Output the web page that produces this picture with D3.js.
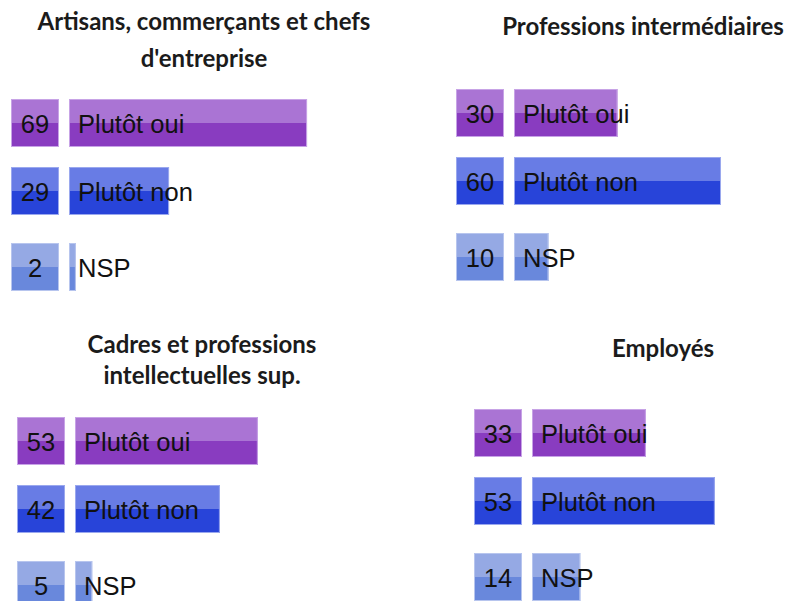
<!DOCTYPE html>
<html>
<head>
<meta charset="utf-8">
<script src="https://cdn.jsdelivr.net/npm/d3@7"></script>
<style>
  body { margin: 0; background: #ffffff; }
  svg { display: block; }
</style>
</head>
<body>
<div class="chart"></div>
<script>
/* Data */
var GROUPS = [
  "Artisans, commerçants et chefs|d'entreprise",
  "Professions intermédiaires",
  "Cadres et professions|intellectuelles sup.",
  "Employés"
];
var ANSWERS = ["Plutôt oui", "Plutôt non", "NSP"];
var VALUES_ARTISANS = [69, 29, 2];
var VALUES_INTERMEDIAIRES = [30, 60, 10];
var VALUES_CADRES = [53, 42, 5];
var VALUES_EMPLOYES = [33, 53, 14];
var ALL_VALUES = [VALUES_ARTISANS, VALUES_INTERMEDIAIRES, VALUES_CADRES, VALUES_EMPLOYES];

/* Colours: light upper half, dark lower half of each bar */
var LIGHT = ["#aa74d4", "#687ce5", "#95a9e4"];
var DARK = ["#893cc0", "#2844d9", "#6988dc"];
var EDGE = ["#c7a3e6", "#9aa8ee", "#b7c5ee"];

var WIDTH = 791, HEIGHT = 601;

/* Where each small panel sits: left of the number box, top of first row,
 * title centre, title baseline and title line spacing */
var PANELS = [
  { x: 11, y: 99, tx: 204, ty: 30, lh: 37 },
  { x: 456, y: 89, tx: 643, ty: 35, lh: 0 },
  { x: 17, y: 417, tx: 202, ty: 353, lh: 31 },
  { x: 474, y: 409, tx: 663, ty: 357, lh: 0 }
];

var BOX_W = 48;
var GAP = 10;
var BAR_H = 48;

var svg = d3.select("div.chart")
  .append("svg")
  .attr("width", WIDTH)
  .attr("height", HEIGHT);

/* one unit of percent is ~3.45px */
var x = d3.scaleLinear().domain([0, 100]).range([0, 345]);
var y = d3.scaleOrdinal().domain(ANSWERS).range([0, 68, 144]);

PANELS.forEach(function forEachPanel(p, i) {
  var values = ALL_VALUES[i];
  var g = svg.append("g")
    .attr("transform", "translate(" + p.x + "," + p.y + ")");

  /* title, possibly on two lines */
  var lines = GROUPS[i].split("|");
  var title = svg.append("text")
    .attr("text-anchor", "middle")
    .attr("font-family", "Lato, sans-serif")
    .attr("font-weight", "bold")
    .attr("font-size", 24)
    .attr("fill", "#1b1b1b");
  lines.forEach(function eachLine(line, j) {
    title.append("tspan")
      .attr("x", p.tx)
      .attr("y", p.ty + j * p.lh)
      .text(line);
  });

  var rows = g.selectAll("g.row")
    .data(ANSWERS.map(function mk(a, k) { return { name: a, value: values[k], k: k }; }))
    .enter()
    .append("g")
    .attr("class", "row")
    .attr("transform", function rowY(d) { return "translate(0," + y(d.name) + ")"; });

  function drawSplitRect(sel, xPos, widthFn) {
    sel.append("rect")
      .attr("x", xPos)
      .attr("y", 0)
      .attr("width", widthFn)
      .attr("height", BAR_H / 2)
      .attr("fill", function f(d) { return LIGHT[d.k]; });
    sel.append("rect")
      .attr("x", xPos)
      .attr("y", BAR_H / 2)
      .attr("width", widthFn)
      .attr("height", BAR_H / 2)
      .attr("fill", function f(d) { return DARK[d.k]; });
    sel.append("rect")
      .attr("x", xPos + 0.5)
      .attr("y", 0.5)
      .attr("width", function w(d) { return Math.max(0, widthFn(d) - 1); })
      .attr("height", BAR_H - 1)
      .attr("fill", "none")
      .attr("stroke", function f(d) { return EDGE[d.k]; })
      .attr("stroke-width", 1);
  }

  /* number box */
  drawSplitRect(rows, 0, function boxW() { return BOX_W; });
  /* value bar */
  drawSplitRect(rows, BOX_W + GAP, function barW(d) { return x(d.value); });

  rows.append("text")
    .attr("x", BOX_W / 2)
    .attr("y", BAR_H / 2 + 10)
    .attr("text-anchor", "middle")
    .attr("font-family", "Liberation Sans, Arial, sans-serif")
    .attr("font-size", 25.5)
    .attr("fill", "#111111")
    .text(function t(d) { return d.value; });

  rows.append("text")
    .attr("x", BOX_W + GAP + 9)
    .attr("y", BAR_H / 2 + 10)
    .attr("font-family", "Liberation Sans, Arial, sans-serif")
    .attr("font-size", 25.5)
    .attr("fill", "#111111")
    .text(function t(d) { return d.name; });
});
</script>
</body>
</html>
